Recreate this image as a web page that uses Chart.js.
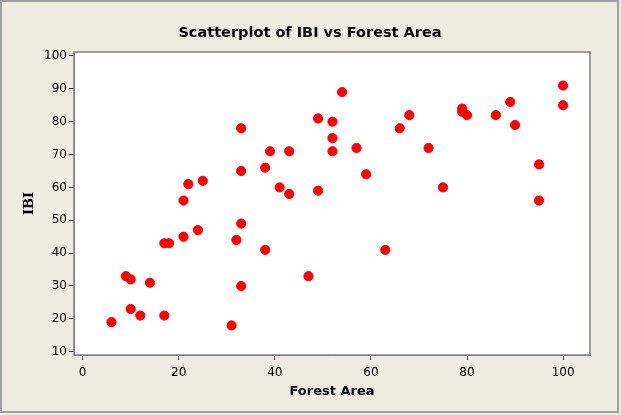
<!DOCTYPE html>
<html>
<head>
<meta charset="utf-8">
<script src="https://cdn.jsdelivr.net/npm/chart.js@4.4.1/dist/chart.umd.min.js"></script>
<style>
  html, body { margin: 0; padding: 0; background: #f0ece2; }
  #wrap { width: 621px; height: 415px; }
</style>
</head>
<body>
<div id="wrap"><canvas id="content" width="621" height="415"></canvas></div>
<script>
// Forest Area (x) and IBI (y)
var forestArea = [6, 9, 10, 10, 12, 14, 17, 18, 17, 21, 21, 22, 24, 25, 31, 32, 33, 33, 33, 33,
  38, 38, 39, 41, 43, 43, 47, 49, 49, 52, 52, 52, 54, 57, 59, 63, 66, 68, 72, 75,
  79, 79, 80, 86, 89, 90, 95, 95, 100, 100];
var ibi = [19, 33, 32, 23, 21, 31, 43, 43, 21, 45, 56, 61, 47, 62, 18, 44, 30, 49, 65, 78,
  41, 66, 71, 60, 58, 71, 33, 59, 81, 71, 75, 80, 89, 72, 64, 41, 78, 82, 72, 60,
  83, 84, 82, 82, 86, 79, 56, 67, 85, 91];
var xTicks = [0, 20, 40, 60, 80, 100];
var yTicks = [10, 20, 30, 40, 50, 60, 70, 80, 90, 100];
var chartTitle = "Scatterplot of IBI vs Forest Area";

var points = [];
for (let i = 0; i < forestArea.length; i++) {
  points.push({ x: forestArea[i], y: ibi[i] });
}

var framePlugin = {
  id: "frame",
  beforeDraw(chart) {
    let ctx = chart.ctx;
    let a = chart.chartArea;
    ctx.save();
    ctx.fillStyle = "#f0ece2";
    ctx.fillRect(0, 0, chart.width, chart.height);
    ctx.strokeStyle = "#a0a0a0";
    ctx.lineWidth = 2;
    ctx.strokeRect(1, 1, chart.width - 4, chart.height - 4);
    ctx.fillStyle = "#ffffff";
    ctx.fillRect(a.left, a.top, a.right - a.left, a.bottom - a.top);
    ctx.restore();
  },
  afterDraw(chart) {
    let ctx = chart.ctx;
    let a = chart.chartArea;
    ctx.save();
    ctx.strokeStyle = "#808080";
    ctx.lineWidth = 1.5;
    ctx.strokeRect(a.left, a.top, a.right - a.left, a.bottom - a.top);
    // title, centred on the whole picture
    ctx.fillStyle = "#000";
    ctx.font = "bold 14.5px 'DejaVu Sans'";
    ctx.textAlign = "center";
    ctx.textBaseline = "middle";
    ctx.fillText(chartTitle, 310, 33);
    ctx.restore();
  }
};

new Chart("content", {
  type: "scatter",
  data: {
    datasets: [{
      data: points,
      backgroundColor: "#ff0000",
      borderColor: "#ff0000",
      pointRadius: 4.6,
      pointHoverRadius: 4.6
    }]
  },
  options: {
    responsive: false,
    animation: false,
    layout: { padding: { left: 20, right: 31, top: 52, bottom: 14 } },
    plugins: {
      legend: { display: false },
      tooltip: { enabled: false },
      title: { display: false }
    },
    scales: {
      x: {
        type: "linear",
        min: -1.8,
        max: 105.6,
        afterBuildTicks(axis) { axis.ticks = xTicks.map(v => ({ value: v })); },
        afterFit(axis) { axis.height = 46; },
        grid: { drawOnChartArea: false, drawTicks: true, tickLength: 5, color: "#333" },
        border: { display: true, color: "#808080" },
        ticks: { color: "#000", padding: 6, font: { family: "DejaVu Sans", size: 12 } },
        title: {
          display: true,
          text: "Forest Area",
          color: "#000",
          font: { family: "DejaVu Sans", size: 13, weight: "bold" },
          padding: { top: 2, bottom: 2 }
        }
      },
      y: {
        type: "linear",
        min: 9.0,
        max: 101.2,
        afterBuildTicks(axis) { axis.ticks = yTicks.map(v => ({ value: v })); },
        afterFit(axis) { axis.width = 54; },
        grid: { drawOnChartArea: false, drawTicks: true, tickLength: 5, color: "#333" },
        border: { display: true, color: "#808080" },
        ticks: { color: "#000", padding: 2, font: { family: "DejaVu Sans", size: 12 } },
        title: {
          display: true,
          text: "IBI",
          color: "#000",
          font: { family: "DejaVu Serif", size: 13, weight: "bold" },
          padding: { top: 2, bottom: 2 }
        }
      }
    }
  },
  plugins: [framePlugin]
});
</script>
</body>
</html>
